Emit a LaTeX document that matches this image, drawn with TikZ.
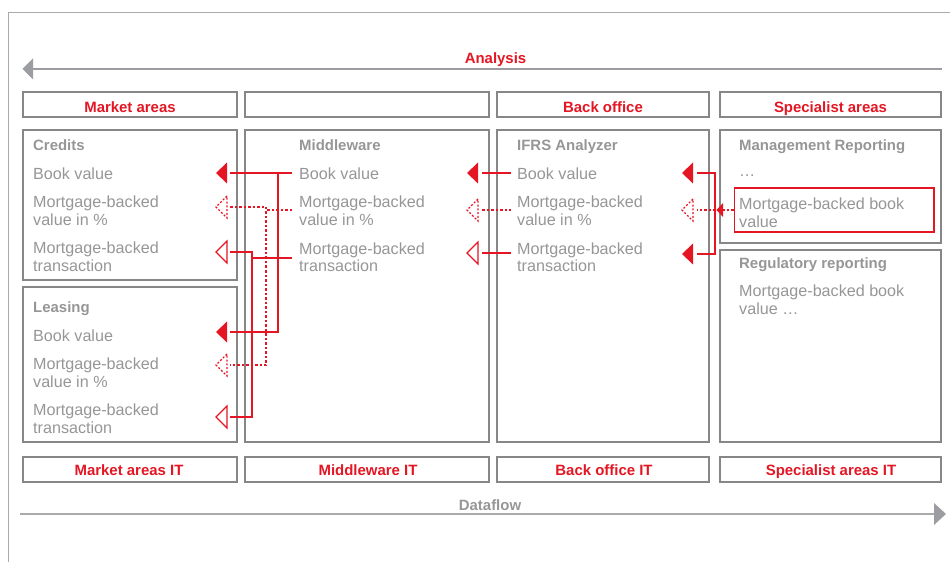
\documentclass[tikz,border=0pt]{standalone}
\usepackage{fontspec}
\setmainfont{Liberation Sans}
\definecolor{rd}{RGB}{228,22,35}
\definecolor{bx}{RGB}{135,135,135}
\definecolor{tx}{RGB}{150,150,150}
\definecolor{ar}{RGB}{155,157,162}
\definecolor{fr}{RGB}{170,170,170}
\begin{document}
\begin{tikzpicture}[x=1bp,y=-1bp,
 box/.style={draw=bx, line width=1.2bp},
 lbl/.style={anchor=base west, inner sep=0pt, text=tx, align=left, font=\fontsize{16.2}{18}\selectfont},
 ttl/.style={anchor=base west, inner sep=0pt, text=tx, font=\bfseries\fontsize{15}{18}\selectfont},
 hdr/.style={anchor=base, inner sep=0pt, text=rd, font=\bfseries\fontsize{15}{18}\selectfont},
 redline/.style={line width=1.5bp},
 reddash/.style={line width=1.3bp, dash pattern=on 2.5bp off 2bp},
 fullhead/.pic={\fill (0,-10.5) -- (-11,0) -- (0,10.5) -- cycle;},
 openhead/.pic={\draw[line width=1.1bp, line join=miter] (0,-11) -- (-11,0) -- (0,11) -- cycle;},
 dashhead/.pic={\draw[line width=1.1bp, dash pattern=on 2bp off 1.8bp] (0,-11) -- (-11,0) -- (0,11) -- cycle;},
 smallhead/.pic={\fill (0,-7) -- (-6.5,0) -- (0,7) -- cycle;}
]
\useasboundingbox (0,0) rectangle (950,562);

% outer frame
\draw[fr, line width=1bp] (950,12.5) -- (8.5,12.5) -- (8.5,562);

% Analysis arrow
\node[hdr] (an) at (495.5,63.5) {Analysis};
\coordinate (anL) at (33,69);
\coordinate (anR) at (942,69);
\draw[ar, line width=1.2bp] (anR) -- (anL);
\fill[ar] (anL) ++(0,-10.5) -- ++(-10.5,10.5) -- ++(10.5,10.5) -- cycle;

% header boxes
\draw[box] (23,92) rectangle (237,117);
\draw[box] (245,92) rectangle (489,117);
\draw[box] (497,92) rectangle (709,117);
\draw[box] (720,92) rectangle (941,117);
\node[hdr] (h1) at (130,112.5) {Market areas};
\node[hdr] (h3) at (603,112.5) {Back office};
\node[hdr] (h4) at (830.5,112.5) {Specialist areas};

% main boxes
\draw[box] (23,130) rectangle (237,280);
\draw[box] (23,287) rectangle (237,442);
\draw[box] (245,130) rectangle (489,442);
\draw[box] (497,130) rectangle (709,442);
\draw[box] (720,130) rectangle (941,243);
\draw[box] (720,250) rectangle (941,442);

% Credits
\node[ttl] (cr) at (33,150.5) {Credits};
\node[lbl] (crb) at (33,179.5) {Book value};
\node[lbl] (crm) at (33,225.5) {Mortgage-backed\\value in \%};
\node[lbl] (crt) at (33,271.5) {Mortgage-backed\\transaction};
% Leasing
\node[ttl] (le) at (33,312.5) {Leasing};
\node[lbl] (leb) at (33,341.5) {Book value};
\node[lbl] (lem) at (33,387) {Mortgage-backed\\value in \%};
\node[lbl] (let) at (33,433) {Mortgage-backed\\transaction};
% Middleware
\node[ttl] (mw) at (299,150.5) {Middleware};
\node[lbl] (mwb) at (299,179.5) {Book value};
\node[lbl] (mwm) at (299,225.5) {Mortgage-backed\\value in \%};
\node[lbl] (mwt) at (299,272) {Mortgage-backed\\transaction};
% IFRS
\node[ttl] (if) at (517,150.5) {IFRS Analyzer};
\node[lbl] (ifb) at (517,179.5) {Book value};
\node[lbl] (ifm) at (517,225.5) {Mortgage-backed\\value in \%};
\node[lbl] (ift) at (517,272) {Mortgage-backed\\transaction};
% Management reporting
\node[ttl] (mg) at (739,150.5) {Management Reporting};
\node[lbl] (mgd) at (739,177) {…};
\node[draw=rd, line width=1.2bp, minimum width=199.5bp, minimum height=44bp, inner sep=0pt] (mrbox) at (834.2,210) {};
\node[lbl] (mr) at (739,227.5) {Mortgage-backed book\\value};
% Regulatory
\node[ttl] (rg) at (739,268.5) {Regulatory reporting};
\node[lbl] (rgm) at (739,314.5) {Mortgage-backed book\\value …};

% bottom boxes
\draw[box] (23,457) rectangle (237,482);
\draw[box] (245,457) rectangle (489,482);
\draw[box] (497,457) rectangle (709,482);
\draw[box] (720,457) rectangle (941,482);
\node[hdr] (b1) at (129,475) {Market areas IT};
\node[hdr] (b2) at (368,475) {Middleware IT};
\node[hdr] (b3) at (604,475) {Back office IT};
\node[hdr] (b4) at (831,475) {Specialist areas IT};

% Dataflow arrow
\node[hdr, text=tx] (df) at (490,510) {Dataflow};
\coordinate (dfL) at (20,514);
\coordinate (dfR) at (934,514);
\draw[fr, line width=1.2bp] (dfL) -- (dfR);
\fill[ar] (dfR) ++(0,-11) -- ++(12,11) -- ++(-12,11) -- cycle;

% arrowhead anchors (base centres)
\coordinate (hc1) at (227,173);
\coordinate (hc2) at (227,207);
\coordinate (hc3) at (227,252);
\coordinate (hl1) at (227,332);
\coordinate (hl2) at (227,365);
\coordinate (hl3) at (227,417);
\coordinate (hm1) at (478,173);
\coordinate (hm2) at (478,210);
\coordinate (hm3) at (478,253);
\coordinate (hi1) at (693,173);
\coordinate (hi2) at (693,210);
\coordinate (hi3) at (693,254);
\coordinate (hs) at (723,210);
\coordinate (mtl) at (292,258);
% bus lines
\coordinate (busb) at (278,0);
\coordinate (busd) at (266,0);
\coordinate (bust) at (252,0);
\coordinate (brk) at (715,0);

\begin{scope}[color=rd]
% solid connectors
\draw[redline]
  ([xshift=-7bp]hc1 -| mwb.west) -- ([xshift=3bp]hc1)
  (busb |- hc1) -- (busb |- hl1) -- ([xshift=3bp]hl1)
  (mtl) -- (bust |- mtl)
  ([xshift=3bp]hc3) -| (bust |- hl3) -- ([xshift=3bp]hl3)
  ([xshift=4bp]hm1) -- ([xshift=-6bp]hm1 -| ifb.west)
  ([xshift=4bp]hm3) -- ([xshift=-6bp]hm3 -| ift.west)
  ([xshift=4bp]hi1) -| (brk |- hi3) -- ([xshift=4bp]hi3);
% dashed connectors
\draw[reddash]
  ([xshift=-7bp]hm2 -| mwm.west) -- (busd |- hm2)
  ([xshift=3bp]hc2) -| (busd |- hl2) -- ([xshift=3bp]hl2)
  ([xshift=4bp]hm2) -- ([xshift=-6bp]hm2 -| ifm.west)
  (mrbox.west) -- ([xshift=4bp]hi2);
% arrowheads
\pic at (hc1) {fullhead};
\pic at (hc2) {dashhead};
\pic at (hc3) {openhead};
\pic at (hl1) {fullhead};
\pic at (hl2) {dashhead};
\pic at (hl3) {openhead};
\pic at (hm1) {fullhead};
\pic at (hm2) {dashhead};
\pic at (hm3) {openhead};
\pic at (hi1) {fullhead};
\pic at (hi2) {dashhead};
\pic at (hi3) {fullhead};
\pic at (hs) {smallhead};
\end{scope}
\end{tikzpicture}
\end{document}
